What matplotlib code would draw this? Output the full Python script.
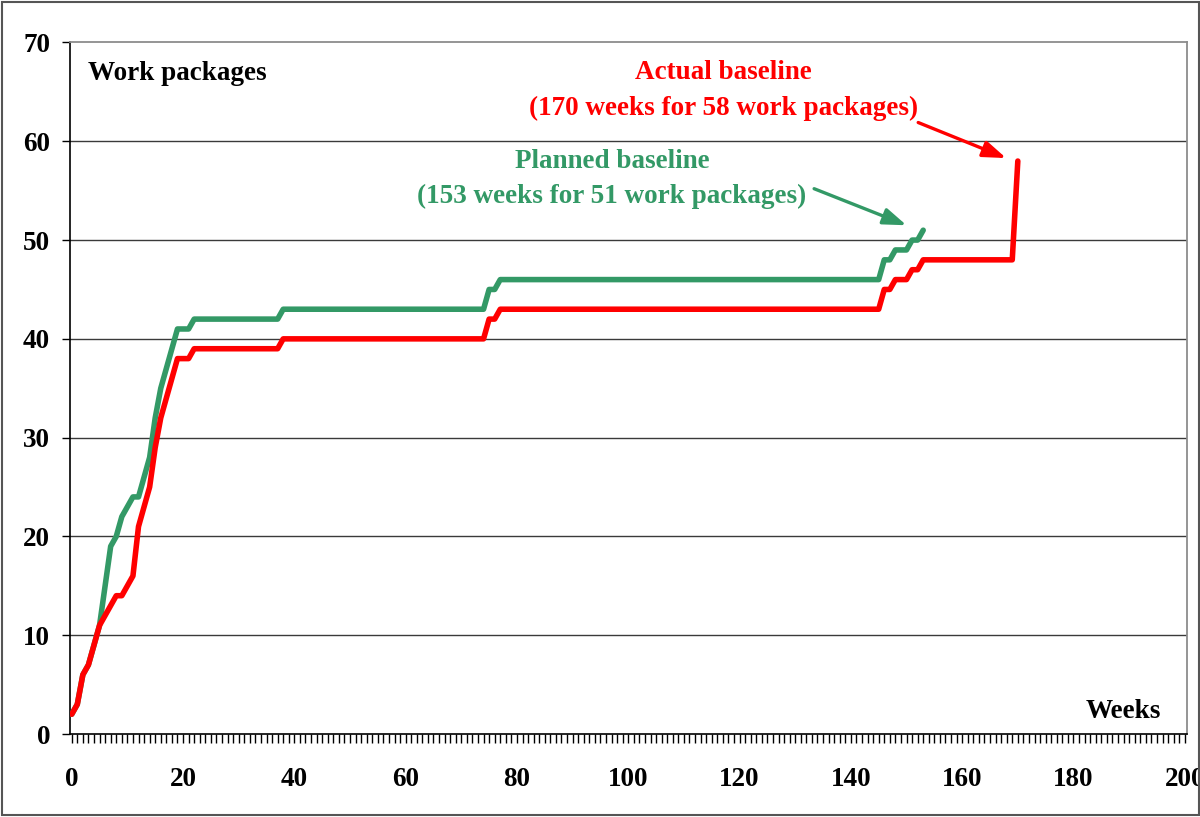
import matplotlib
matplotlib.use("Agg")
import matplotlib.pyplot as plt
from matplotlib.ticker import MultipleLocator
from matplotlib.patches import Rectangle

# ---- data (breakpoints of weekly cumulative counts) ----
actual_weeks = [0, 1, 2, 3, 4, 5, 6, 7, 8, 9, 10, 11, 12, 13, 14, 15, 16, 17, 18, 19,
                21, 22, 37, 38, 74, 75, 76, 77, 145, 146, 147, 148, 150, 151, 152, 153,
                169, 170]
actual_values = [2, 3, 6, 7, 9, 11, 12, 13, 14, 14, 15, 16, 21, 23, 25, 29, 32, 34, 36, 38,
                 38, 39, 39, 40, 40, 42, 42, 43, 43, 45, 45, 46, 46, 47, 47, 48,
                 48, 58]

planned_weeks = [0, 1, 2, 3, 4, 5, 6, 7, 8, 9, 10, 11, 12, 13, 14, 15, 16, 17, 18, 19,
                 21, 22, 37, 38, 74, 75, 76, 77, 145, 146, 147, 148, 150, 151, 152, 153]
planned_values = [2, 3, 6, 7, 9, 11, 15, 19, 20, 22, 23, 24, 24, 26, 28, 32, 35, 37, 39, 41,
                  41, 42, 42, 43, 43, 45, 45, 46, 46, 48, 48, 49, 49, 50, 50, 51]

y_ticks = [0, 10, 20, 30, 40, 50, 60, 70]
x_ticks = [0, 20, 40, 60, 80, 100, 120, 140, 160, 180, 200]

RED = "#FF0000"
GREEN = "#339966"

plt.rcParams['font.family'] = ['Liberation Serif', 'DejaVu Serif']
plt.rcParams['font.weight'] = 'bold'

W, H = 1200, 817
fig = plt.figure(figsize=(W / 100, H / 100), dpi=100)
ax = fig.add_axes([69.5 / W, 1 - 734 / H, (1187 - 69.5) / W, (734 - 42.5) / H])

ax.set_xlim(-0.4, 200.4)
ax.set_ylim(0, 70)

for y in y_ticks[1:-1]:
    ax.axhline(y, color="#3a3a3a", lw=1.0, zorder=1)

ax.plot(planned_weeks, planned_values, color=GREEN, lw=4.0, solid_joinstyle='round',
        solid_capstyle='round', zorder=3)
ax.plot(actual_weeks, actual_values, color=RED, lw=4.0, solid_joinstyle='round',
        solid_capstyle='round', zorder=4)

# spines
ax.spines['left'].set_color('black')
ax.spines['left'].set_linewidth(1.2)
ax.spines['bottom'].set_color('black')
ax.spines['bottom'].set_linewidth(1.2)
ax.spines['top'].set_color('#8c8c8c')
ax.spines['top'].set_linewidth(1.3)
ax.spines['right'].set_color('#8c8c8c')
ax.spines['right'].set_linewidth(1.3)

ax.set_xticks(x_ticks)
ax.set_yticks(y_ticks)
ax.xaxis.set_minor_locator(MultipleLocator(1))
ax.tick_params(axis='x', which='both', direction='out', length=6.5, width=1.0,
               color='black', labelsize=19.5, pad=17)
ax.tick_params(axis='y', which='major', direction='out', length=6, width=1.0,
               color='black', labelsize=19.5, pad=8)
for lab in ax.get_xticklabels() + ax.get_yticklabels():
    lab.set_fontweight('bold')

# axis titles inside the plot
fig.text(88 / W, 1 - 73 / H, "Work packages", fontsize=19.5, fontweight='bold',
         ha='left', va='center')
fig.text(1161 / W, 1 - 712 / H, "Weeks", fontsize=19.5, fontweight='bold',
         ha='right', va='center')

# annotations
ax.text(117.1, 67.0, "Actual baseline", color=RED, fontsize=19.5, fontweight='bold',
        ha='center', va='center')
ax.text(117.1, 63.3, "(170 weeks for 58 work packages)", color=RED, fontsize=19.5,
        fontweight='bold', ha='center', va='center')
ax.text(97.1, 58.0, "Planned baseline", color=GREEN, fontsize=19.5, fontweight='bold',
        ha='center', va='center')
ax.text(97.1, 54.4, "(153 weeks for 51 work packages)", color=GREEN, fontsize=19.5,
        fontweight='bold', ha='center', va='center')

ax.annotate("", xy=(167.9, 58.3), xytext=(152.1, 61.9),
            arrowprops=dict(arrowstyle='-|>,head_length=1.4,head_width=0.5',
                            color=RED, lw=2.4, shrinkA=0, shrinkB=0))
ax.annotate("", xy=(150.0, 51.5), xytext=(133.4, 55.2),
            arrowprops=dict(arrowstyle='-|>,head_length=1.4,head_width=0.5',
                            color=GREEN, lw=2.4, shrinkA=0, shrinkB=0))

# outer figure border
fig.patches.append(Rectangle((2 / W, 2 / H), 1 - 3 / W, 1 - 4 / H,
                             transform=fig.transFigure, fill=False,
                             edgecolor='#555555', lw=1.5))

fig.savefig("out.png", dpi=100)
